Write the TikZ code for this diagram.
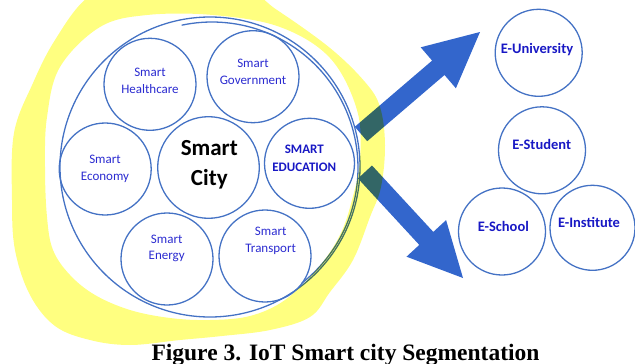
\documentclass[tikz,border=0pt]{standalone}
\usepackage{fontspec}
\setmainfont{Carlito}
\newfontfamily\capfont{Liberation Serif}
\definecolor{ringblue}{HTML}{4472C4}
\definecolor{arrowblue}{HTML}{3366CC}
\definecolor{txtblue}{HTML}{2B2BD0}
\definecolor{boldblue}{HTML}{1818C4}
\definecolor{hiyellow}{HTML}{FFFF80}
\tikzset{
  ring/.style={draw=ringblue, line width=1.3pt, circle, inner sep=0pt, fill=none},
  small/.style={ring, minimum size=92pt},
  ecirc/.style={ring, minimum size=87pt},
  smalltext/.style={text=txtblue, align=center, font=\fontsize{13}{16.7}\selectfont, inner sep=0pt},
  etext/.style={text=boldblue, font=\fontsize{14.5}{17}\selectfont\bfseries, inner sep=0pt},
  blockarrow/.style={fill=arrowblue, draw=none},
}
\begin{document}
\begin{tikzpicture}[x=1pt,y=-1pt]
\useasboundingbox (0,0) rectangle (635,364);
\clip (0,0) rectangle (635,364);
% outer rings
\node[ring, minimum size=300pt] (city) at (210,167) {};
\draw[ringblue, line width=1.3pt] plot[domain=-52:102, samples=80] ({212+146*cos(\x)}, {168-146*sin(\x)});
% inner circles
\node[small] (health) at (150,84.3) {};
\node[small] (gov) at (253,76.7) {};
\node[small] (econ) at (105.2,169) {};
\node[ring, minimum size=101.6pt] (core) at (208.5,167.5) {};
\node[ring, minimum size=90pt] (edu) at (309.5,163.3) {};
\node[small] (energy) at (167,259) {};
\node[small] (trans) at (265,256) {};
% texts
\node[smalltext] (thealth) at (150,80.7) {Smart\\Healthcare};
\node[smalltext] (tgov) at (253,71.5) {Smart\\Government};
\node[smalltext] (tecon) at (105,168.5) {Smart\\Economy};
\node[smalltext] (tenergy) at (166.7,248.5) {Smart\\Energy};
\node[smalltext] (ttrans) at (270.7,241) {Smart\\Transport};
\node[text=boldblue, align=center, font=\fontsize{13}{17.7}\selectfont\bfseries, inner sep=0pt] (tedu) at (304.3,158) {SMART\\EDUCATION};
\node[text=black, align=center, font=\fontsize{23}{30}\selectfont\bfseries, inner sep=0pt] (tcore) at (209.3,165) {Smart\\City};
% right circles
\node[ecirc] (euni) at (538.7,52.8) {};
\node[ecirc] (estu) at (542,150.3) {};
\node[ecirc] (esch) at (502,231.5) {};
\node[ring, minimum size=85pt] (einst) at (592.5,227.8) {};
\node[etext] (teuni) at (537,50) {E-University};
\node[etext] (testu) at (541.7,144) {E-Student};
\node[etext] (tesch) at (503.3,226.7) {E-School};
\node[etext] (teinst) at (589,222.7) {E-Institute};
% block arrows
\fill[blockarrow] (367.2,141.2) -- (444.5,75.0) -- (455.9,88.3) -- (480,32) -- (420.7,47.3) -- (432.1,60.6) -- (354.8,126.8) -- cycle;
\fill[blockarrow] (358.0,178.5) -- (419.3,244.9) -- (406.5,256.7) -- (463,278) -- (446.1,220.1) -- (433.3,231.9) -- (372.0,165.5) -- cycle;
% yellow highlight
\begin{scope}[blend mode=multiply]
\fill[hiyellow, even odd rule]
  plot[smooth cycle, tension=0.6] coordinates {(87,-2) (130,-20) (235,-15) (277,10) (330,48) (365,82) (380,107) (385,145) (381,187) (370,217) (353,260) (330,292) (310,317) (270,330) (222,336) (180,340) (130,345) (90,340) (55,326) (30,295) (15,250) (12,200) (14,133) (33,83) (55,40)}
  plot[smooth cycle, tension=0.6] coordinates {(147,15) (213,15) (280,27) (330,58) (357,110) (360,160) (352,200) (340,235) (318,268) (285,300) (250,316) (210,320) (170,318) (130,310) (95,295) (70,275) (53,250) (47,217) (45,167) (47,117) (60,67) (100,27)};
\end{scope}
% caption
\node[anchor=base, font=\capfont\fontsize{23.5}{25}\selectfont\bfseries, inner sep=0pt] (caption) at (345.5,360) {Figure 3. IoT Smart city Segmentation};
\end{tikzpicture}
\end{document}
